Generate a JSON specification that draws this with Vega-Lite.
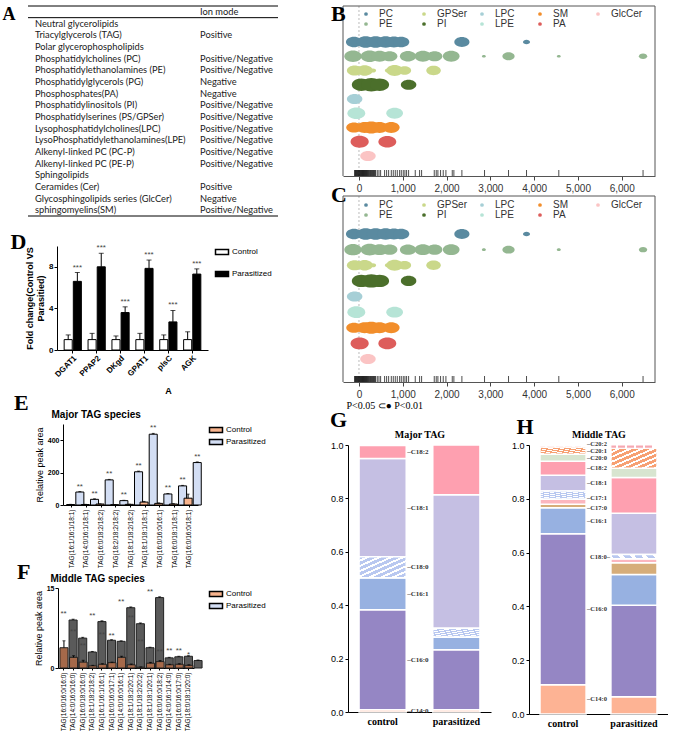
{
"$schema":"https://vega.github.io/schema/vega-lite/v6.json",
"padding":{"left":2,"top":2,"right":0,"bottom":0},
"background":"white",
"config":{
 "view":{"stroke":null},
 "axis":{"grid":false,"labelFont":"Liberation Sans","titleFont":"Liberation Sans","domainColor":"black","tickColor":"black","labelColor":"black","titleColor":"black"},
 "title":{"font":"Liberation Serif","fontSize":22,"fontWeight":"bold","anchor":"start","frame":"bounds","color":"black"}
},
"resolve":{"scale":{"color":"independent","fill":"independent","size":"independent"},"legend":{"color":"independent","fill":"independent","size":"independent"}},
"datasets":{
 "tableA":[
  {"row":"r00","name":"","mode":"Ion mode"},
  {"row":"r01","name":"Neutral glycerolipids","mode":""},
  {"row":"r02","name":"Triacylglycerols (TAG)","mode":"Positive"},
  {"row":"r03","name":"Polar glycerophospholipids","mode":""},
  {"row":"r04","name":"Phosphatidylcholines (PC)","mode":"Positive/Negative"},
  {"row":"r05","name":"Phosphatidylethanolamines (PE)","mode":"Positive/Negative"},
  {"row":"r06","name":"Phosphatidylglycerols (PG)","mode":"Negative"},
  {"row":"r07","name":"Phosphosphates(PA)","mode":"Negative"},
  {"row":"r08","name":"Phosphatidylinositols (PI)","mode":"Positive/Negative"},
  {"row":"r09","name":"Phosphatidylserines (PS/GPSer)","mode":"Positive/Negative"},
  {"row":"r10","name":"Lysophosphatidylcholines(LPC)","mode":"Positive/Negative"},
  {"row":"r11","name":"LysoPhosphatidylethanolamines(LPE)","mode":"Positive/Negative"},
  {"row":"r12","name":"Alkenyl-linked PC (PC-P)","mode":"Positive/Negative"},
  {"row":"r13","name":"Alkenyl-linked PC (PE-P)","mode":"Positive/Negative"},
  {"row":"r14","name":"Sphingolipids","mode":""},
  {"row":"r15","name":"Ceramides (Cer)","mode":"Positive"},
  {"row":"r16","name":"Glycosphingolipids series (GlcCer)","mode":"Negative"},
  {"row":"r17","name":"sphingomyelins(SM)","mode":"Positive/Negative"}
 ],
 "genes":[
  {"gene":"DGAT1","group":"Control","value":1.0,"err":0.45,"sig":""},
  {"gene":"DGAT1","group":"Parasitized","value":6.6,"err":0.85,"sig":"***"},
  {"gene":"PPAP2","group":"Control","value":1.0,"err":0.6,"sig":""},
  {"gene":"PPAP2","group":"Parasitized","value":8.0,"err":1.3,"sig":"***"},
  {"gene":"DKgd","group":"Control","value":1.0,"err":0.35,"sig":""},
  {"gene":"DKgd","group":"Parasitized","value":3.6,"err":0.55,"sig":"***"},
  {"gene":"GPAT1","group":"Control","value":1.0,"err":0.6,"sig":""},
  {"gene":"GPAT1","group":"Parasitized","value":7.85,"err":0.8,"sig":"***"},
  {"gene":"plsC","group":"Control","value":1.0,"err":0.45,"sig":""},
  {"gene":"plsC","group":"Parasitized","value":2.7,"err":1.1,"sig":"***"},
  {"gene":"AGK","group":"Control","value":1.0,"err":0.75,"sig":""},
  {"gene":"AGK","group":"Parasitized","value":7.3,"err":0.5,"sig":"***"}
 ],
 "tagE":[
  {"sp":"TAG(16:1/16:1/18:1)","group":"Control","value":3,"err":1,"sig":""},
  {"sp":"TAG(16:1/16:1/18:1)","group":"Parasitized","value":80,"err":3,"sig":"**"},
  {"sp":"TAG(14:0/16:1/18:1)","group":"Control","value":3,"err":1,"sig":""},
  {"sp":"TAG(14:0/16:1/18:1)","group":"Parasitized","value":35,"err":3,"sig":"**"},
  {"sp":"TAG(16:0/18:2/18:2)","group":"Control","value":6,"err":1,"sig":""},
  {"sp":"TAG(16:0/18:2/18:2)","group":"Parasitized","value":155,"err":3,"sig":"**"},
  {"sp":"TAG(18:2/18:2/18:2)","group":"Control","value":2,"err":1,"sig":""},
  {"sp":"TAG(18:2/18:2/18:2)","group":"Parasitized","value":27,"err":2,"sig":"**"},
  {"sp":"TAG(18:1/18:2/18:2)","group":"Control","value":4,"err":1,"sig":""},
  {"sp":"TAG(18:1/18:2/18:2)","group":"Parasitized","value":205,"err":4,"sig":"**"},
  {"sp":"TAG(18:1/18:1/18:1)","group":"Control","value":18,"err":4,"sig":""},
  {"sp":"TAG(18:1/18:1/18:1)","group":"Parasitized","value":437,"err":5,"sig":"**"},
  {"sp":"TAG(16:0/16:0/16:1)","group":"Control","value":10,"err":3,"sig":""},
  {"sp":"TAG(16:0/16:0/16:1)","group":"Parasitized","value":68,"err":3,"sig":"**"},
  {"sp":"TAG(16:0/18:1/18:1)","group":"Control","value":6,"err":2,"sig":""},
  {"sp":"TAG(16:0/18:1/18:1)","group":"Parasitized","value":118,"err":3,"sig":"**"},
  {"sp":"TAG(16:0/16:0/18:1)","group":"Control","value":42,"err":25,"sig":""},
  {"sp":"TAG(16:0/16:0/18:1)","group":"Parasitized","value":262,"err":4,"sig":"**"}
 ],
 "tagF":[
  {"sp":"TAG(16:0/16:0/16:0)","group":"Control","value":3.8,"err":1.3},
  {"sp":"TAG(16:0/16:0/16:0)","group":"Parasitized","value":9.0,"err":0.15,"sig":"**"},
  {"sp":"TAG(14:0/16:0/16:0)","group":"Control","value":2.0,"err":0.3},
  {"sp":"TAG(14:0/16:0/16:0)","group":"Parasitized","value":5.6,"err":0.15,"sig":"**"},
  {"sp":"TAG(16:0/18:0/16:0)","group":"Control","value":1.1,"err":0.35},
  {"sp":"TAG(16:0/18:0/16:0)","group":"Parasitized","value":3.0,"err":0.1,"sig":"**"},
  {"sp":"TAG(18:1/18:2/18:2)","group":"Control","value":0.4,"err":0.1},
  {"sp":"TAG(18:1/18:2/18:2)","group":"Parasitized","value":8.7,"err":0.15,"sig":"**"},
  {"sp":"TAG(16:1/16:1/16:1)","group":"Control","value":0.7,"err":0.1},
  {"sp":"TAG(16:1/16:1/16:1)","group":"Parasitized","value":5.2,"err":0.1,"sig":"**"},
  {"sp":"TAG(16:0/16:0/17:1)","group":"Control","value":1.0,"err":0.1},
  {"sp":"TAG(16:0/16:0/17:1)","group":"Parasitized","value":5.0,"err":0.1,"sig":"**"},
  {"sp":"TAG(14:0/16:0/16:1)","group":"Control","value":2.0,"err":0.2},
  {"sp":"TAG(14:0/16:0/16:1)","group":"Parasitized","value":11.3,"err":0.15,"sig":"**"},
  {"sp":"TAG(18:1/18:2/20:1)","group":"Control","value":0.6,"err":0.15},
  {"sp":"TAG(18:1/18:2/20:1)","group":"Parasitized","value":8.3,"err":0.15,"sig":"**"},
  {"sp":"TAG(18:1/18:2/20:2)","group":"Control","value":0.15,"err":0.05},
  {"sp":"TAG(18:1/18:2/20:2)","group":"Parasitized","value":3.8,"err":0.1,"sig":"**"},
  {"sp":"TAG(18:1/18:1/20:1)","group":"Control","value":0.9,"err":0.15},
  {"sp":"TAG(18:1/18:1/20:1)","group":"Parasitized","value":13.2,"err":0.15,"sig":"**"},
  {"sp":"TAG(16:0/16:0/18:2)","group":"Control","value":1.2,"err":0.2},
  {"sp":"TAG(16:0/16:0/18:2)","group":"Parasitized","value":1.9,"err":0.1,"sig":"**"},
  {"sp":"TAG(14:0/16:1/14:0)","group":"Control","value":0.6,"err":0.1},
  {"sp":"TAG(14:0/16:1/14:0)","group":"Parasitized","value":2.1,"err":0.1,"sig":"**"},
  {"sp":"TAG(16:0/16:0/17:0)","group":"Control","value":0.7,"err":0.1},
  {"sp":"TAG(16:0/16:0/17:0)","group":"Parasitized","value":2.2,"err":0.1,"sig":"**"},
  {"sp":"TAG(18:0/18:1/20:0)","group":"Control","value":0.5,"err":0.1},
  {"sp":"TAG(18:0/18:1/20:0)","group":"Parasitized","value":1.4,"err":0.1,"sig":"*"}
 ],
 "lipids":[
  {"cls":"PC","x":-114,"n":260},{"cls":"PC","x":152,"n":320},{"cls":"PC","x":380,"n":320},{"cls":"PC","x":608,"n":300},{"cls":"PC","x":798,"n":280},{"cls":"PC","x":965,"n":260},{"cls":"PC","x":2350,"n":230},{"cls":"PC","x":3826,"n":50},
  {"cls":"PE","x":-137,"n":300},{"cls":"PE","x":243,"n":320},{"cls":"PE","x":471,"n":280},{"cls":"PE","x":700,"n":240},{"cls":"PE","x":1118,"n":260},{"cls":"PE","x":1460,"n":280},{"cls":"PE","x":1727,"n":240},{"cls":"PE","x":2106,"n":280},{"cls":"PE","x":2852,"n":16},{"cls":"PE","x":3415,"n":150},{"cls":"PE","x":4563,"n":16},{"cls":"PE","x":6487,"n":70},
  {"cls":"GPSer","x":-99,"n":240},{"cls":"GPSer","x":129,"n":260},{"cls":"GPSer","x":319,"n":40},{"cls":"GPSer","x":662,"n":40},{"cls":"GPSer","x":814,"n":280},{"cls":"GPSer","x":1042,"n":170},{"cls":"GPSer","x":1703,"n":210},
  {"cls":"PI","x":53,"n":360},{"cls":"PI","x":281,"n":420},{"cls":"PI","x":471,"n":360},{"cls":"PI","x":1133,"n":240},
  {"cls":"LPC","x":-99,"n":240},
  {"cls":"LPE","x":-61,"n":320},{"cls":"LPE","x":814,"n":280},
  {"cls":"SM","x":-114,"n":240},{"cls":"SM","x":129,"n":280},{"cls":"SM","x":281,"n":350},{"cls":"SM","x":471,"n":280},{"cls":"SM","x":737,"n":280},
  {"cls":"PA","x":15,"n":330},{"cls":"PA","x":647,"n":320},
  {"cls":"GlcCer","x":205,"n":240}
 ],
 "rug":[
  {"x":-100},{"x":-88},{"x":-76},{"x":-64},{"x":-52},{"x":-40},{"x":-28},{"x":-16},{"x":-4},{"x":8},{"x":20},{"x":32},{"x":44},{"x":56},{"x":68},{"x":80},{"x":92},{"x":104},{"x":116},{"x":128},{"x":140},{"x":152},{"x":164},{"x":176},{"x":188},{"x":200},{"x":215},{"x":230},{"x":245},{"x":260},{"x":275},{"x":290},{"x":305},{"x":320},{"x":335},{"x":350},{"x":365},
  {"x":380},{"x":418},{"x":456},{"x":494},{"x":585},{"x":631},{"x":677},{"x":738},{"x":783},{"x":829},{"x":875},{"x":928},{"x":966},{"x":1011},{"x":1049},{"x":1087},{"x":1133},{"x":1285},{"x":1384},{"x":1430},{"x":1719},{"x":1764},{"x":1802},{"x":1863},{"x":1924},{"x":1985},{"x":2130},{"x":2167},{"x":2350},{"x":2867},{"x":3415},{"x":3826},{"x":4563},{"x":6487}
 ],
 "faG":[
  {"group":"control","fa":"C14:0","value":0.008},{"group":"control","fa":"C16:0","value":0.375},{"group":"control","fa":"C16:1","value":0.12},{"group":"control","fa":"C18:0","value":0.078},{"group":"control","fa":"C18:1","value":0.368},{"group":"control","fa":"C18:2","value":0.049},
  {"group":"parasitized","fa":"C14:0","value":0.008},{"group":"parasitized","fa":"C16:0","value":0.225},{"group":"parasitized","fa":"C16:1","value":0.048},{"group":"parasitized","fa":"C18:0","value":0.033},{"group":"parasitized","fa":"C18:1","value":0.5},{"group":"parasitized","fa":"C18:2","value":0.186}
 ],
 "faH":[
  {"group":"control","fa":"C14:0","value":0.109},{"group":"control","fa":"C16:0","value":0.561},{"group":"control","fa":"C16:1","value":0.097},{"group":"control","fa":"C17:0","value":0.013},{"group":"control","fa":"C17:1","value":0.019},{"group":"control","fa":"C18:0","value":0.03},{"group":"control","fa":"C18:1","value":0.059},{"group":"control","fa":"C18:2","value":0.052},{"group":"control","fa":"C20:0","value":0.026},{"group":"control","fa":"C20:1","value":0.027},{"group":"control","fa":"C20:2","value":0.003},
  {"group":"parasitized","fa":"C14:0","value":0.064},{"group":"parasitized","fa":"C16:0","value":0.34},{"group":"parasitized","fa":"C16:1","value":0.115},{"group":"parasitized","fa":"C17:0","value":0.043},{"group":"parasitized","fa":"C17:1","value":0.015},{"group":"parasitized","fa":"C18:0","value":0.016},{"group":"parasitized","fa":"C18:1","value":0.153},{"group":"parasitized","fa":"C18:2","value":0.133},{"group":"parasitized","fa":"C20:0","value":0.035},{"group":"parasitized","fa":"C20:1","value":0.074},{"group":"parasitized","fa":"C20:2","value":0.012}
 ]
},
"hconcat":[
 {"concat":[
  {
   "width":250,"height":210,
   "title":{"text":"A","fontSize":18,"offset":-18,"dx":-25},
   "data":{"name":"tableA"},
   "layer":[
    {"mark":{"type":"text","align":"left","baseline":"middle","font":"Lato","fontSize":9.3,"color":"#1a1a1a"},
     "encoding":{
      "x":{"datum":"Lipid","type":"nominal","bandPosition":0,"scale":{"type":"band","domain":["Lipid","Mode"],"paddingInner":0.57,"paddingOuter":0.042},"axis":null},
      "y":{"field":"row","type":"nominal","scale":{"type":"band","paddingInner":0,"paddingOuter":0},"axis":null},
      "text":{"field":"name"}}},
    {"mark":{"type":"text","align":"left","baseline":"middle","font":"Lato","fontSize":9.3,"color":"#1a1a1a"},
     "encoding":{
      "x":{"datum":"Mode","type":"nominal","bandPosition":0},
      "y":{"field":"row","type":"nominal"},
      "text":{"field":"mode"}}},
    {"transform":[{"filter":"datum.row == 'r00'"}],"mark":{"type":"rule","color":"black","strokeWidth":1},"encoding":{"y":{"field":"row","type":"nominal","bandPosition":0}}},
    {"transform":[{"filter":"datum.row == 'r00'"}],"mark":{"type":"rule","color":"black","strokeWidth":1},"encoding":{"y":{"field":"row","type":"nominal","bandPosition":1}}},
    {"transform":[{"filter":"datum.row == 'r17'"}],"mark":{"type":"rule","color":"black","strokeWidth":1},"encoding":{"y":{"field":"row","type":"nominal","bandPosition":1}}}
   ]
  },
  {"concat":[
   {
    "width":180,"height":104,
    "title":{"text":"D","offset":-10,"dx":-15},
    "data":{"name":"genes"},
    "transform":[{"calculate":"datum.value + datum.err","as":"hi"}],
    "encoding":{
     "x":{"field":"gene","type":"nominal","sort":null,"scale":{"range":[29,180],"paddingInner":0.28,"paddingOuter":0.3},"axis":{"title":"A","titleX":140,"titleFontSize":9,"titleFontWeight":"bold","titlePadding":8,"labelAngle":-45,"labelFontSize":8,"labelFontWeight":"bold","tickSize":3,"labelPadding":1}},
     "xOffset":{"field":"group","type":"nominal","sort":["Control","Parasitized"],"scale":{"paddingInner":0.12}}
    },
    "layer":[
     {"mark":{"type":"bar","stroke":"black","strokeWidth":1},
      "encoding":{
       "y":{"field":"value","type":"quantitative","scale":{"domain":[0,10],"nice":false},"axis":{"offset":-29,"values":[0,2,4,6,8,10],"title":["Fold change(Control VS","Parasitied)"],"titleFontSize":9,"titleFontWeight":"bold","titlePadding":3,"labelFontSize":8,"labelFontWeight":"bold","tickSize":3,"labelPadding":1}},
       "fill":{"field":"group","type":"nominal","scale":{"domain":["Control","Parasitized"],"range":["white","black"]},"legend":{"title":null,"symbolType":"M-1.3,-0.5H1.3V0.5H-1.3Z","symbolSize":100,"symbolStrokeColor":"black","symbolStrokeWidth":1.5,"labelFontSize":8,"labelFont":"Liberation Sans","rowPadding":10,"offset":8}}}},
     {"mark":{"type":"rule","color":"black","strokeWidth":1},"encoding":{"y":{"field":"value","type":"quantitative"},"y2":{"field":"hi"}}},
     {"mark":{"type":"tick","color":"black","orient":"horizontal","size":5,"thickness":1},"encoding":{"y":{"field":"hi","type":"quantitative"}}},
     {"mark":{"type":"text","baseline":"bottom","dy":-1,"fontSize":8,"font":"Liberation Sans","color":"#444"},"encoding":{"y":{"field":"hi","type":"quantitative"},"text":{"field":"sig"}}}
    ]
   },
   {"concat":[
    {
     "width":170,"height":81,
     "title":{"text":"E","offset":-6,"dx":-14},
     "data":{"name":"tagE"},
     "transform":[{"calculate":"datum.value + datum.err","as":"hi"}],
     "resolve":{"axis":{"x":"independent"}},
     "layer":[
      {"mark":{"type":"bar","stroke":"black","strokeWidth":1},
       "encoding":{
        "x":{"field":"sp","type":"nominal","sort":null,"scale":{"range":[35,170],"paddingInner":0.3,"paddingOuter":0.25},"axis":{"title":null,"labelAngle":-90,"labelFontSize":6.5,"tickSize":2,"labelPadding":2}},
        "xOffset":{"field":"group","type":"nominal","scale":{"paddingInner":0.1}},
        "y":{"field":"value","type":"quantitative","scale":{"domain":[0,500],"nice":false},"axis":{"offset":-35,"values":[0,100,200,300,400,500],"title":"Relative peak area","titleFontSize":9,"titleFontWeight":"normal","titlePadding":3,"labelFontSize":7,"labelFontWeight":"bold","tickSize":3,"labelPadding":1}},
        "fill":{"field":"group","type":"nominal","scale":{"domain":["Control","Parasitized"],"range":["#f7b38d","#d3def4"]},"legend":{"title":null,"symbolType":"M-1.3,-0.5H1.3V0.5H-1.3Z","symbolSize":100,"symbolStrokeColor":"black","symbolStrokeWidth":1.5,"labelFontSize":8,"labelFont":"Liberation Sans","rowPadding":-2,"offset":12}}}},
      {"mark":{"type":"rule","color":"black","strokeWidth":1},"encoding":{"x":{"field":"sp","type":"nominal","sort":null,"axis":null},"xOffset":{"field":"group","type":"nominal"},"y":{"field":"value","type":"quantitative"},"y2":{"field":"hi"}}},
      {"mark":{"type":"tick","color":"black","orient":"horizontal","size":3,"thickness":1},"encoding":{"x":{"field":"sp","type":"nominal","sort":null,"axis":null},"xOffset":{"field":"group","type":"nominal"},"y":{"field":"hi","type":"quantitative"}}},
      {"transform":[{"filter":"datum.group == 'Parasitized'"}],"mark":{"type":"text","baseline":"bottom","dy":-1,"fontSize":8,"font":"Liberation Sans","color":"#444"},"encoding":{"x":{"field":"sp","type":"nominal","sort":null,"axis":null},"xOffset":{"field":"group","type":"nominal"},"y":{"field":"hi","type":"quantitative"},"text":{"field":"sig"}}},
      {"mark":{"type":"tick","opacity":0},"encoding":{"x":{"field":"sp","type":"nominal","sort":null,"axis":{"orient":"top","title":"Major TAG species","labels":false,"ticks":false,"domain":false,"titleFontSize":10,"titleFontWeight":"bold","titleAnchor":"start","titleAlign":"left","titleX":23,"titlePadding":5}}}}
     ]
    },
    {
     "width":166,"height":80,
     "title":{"text":"F","offset":-11,"dx":-11},
     "data":{"name":"tagF"},
     "transform":[{"calculate":"datum.value + datum.err","as":"hi"}],
     "resolve":{"axis":{"x":"independent"},"scale":{"color":"independent"}},
     "layer":[
      {"mark":{"type":"bar","stroke":"#222","strokeWidth":1},
       "encoding":{
        "x":{"field":"sp","type":"nominal","sort":null,"scale":{"range":[30,166],"paddingInner":0.25,"paddingOuter":0.2},"axis":{"title":null,"labelAngle":-90,"labelFontSize":6.5,"tickSize":2,"labelPadding":2}},
        "xOffset":{"field":"group","type":"nominal","scale":{"paddingInner":0.1}},
        "y":{"field":"value","type":"quantitative","scale":{"domain":[0,15],"nice":false},"axis":{"offset":-30,"values":[0,5,10,15],"title":"Relative peak area","titleFontSize":9,"titleFontWeight":"normal","titlePadding":3,"labelFontSize":7,"labelFontWeight":"bold","tickSize":3,"labelPadding":1}},
        "fill":{"field":"group","type":"nominal","scale":{"domain":["Control","Parasitized"],"range":["#a5694a","#5a5a5a"]},"legend":null}}},
      {"mark":{"type":"rule","color":"black","strokeWidth":1},"encoding":{"x":{"field":"sp","type":"nominal","sort":null,"axis":null},"xOffset":{"field":"group","type":"nominal"},"y":{"field":"value","type":"quantitative"},"y2":{"field":"hi"}}},
      {"mark":{"type":"tick","color":"black","orient":"horizontal","size":3,"thickness":1},"encoding":{"x":{"field":"sp","type":"nominal","sort":null,"axis":null},"xOffset":{"field":"group","type":"nominal"},"y":{"field":"hi","type":"quantitative"}}},
      {"transform":[{"filter":"datum.group == 'Parasitized'"}],"mark":{"type":"text","baseline":"bottom","dy":-1,"fontSize":8,"font":"Liberation Sans","color":"#444"},"encoding":{"x":{"field":"sp","type":"nominal","sort":null,"axis":null},"y":{"field":"hi","type":"quantitative"},"text":{"field":"sig"}}},
      {"mark":{"type":"tick","opacity":0},"encoding":{"x":{"field":"sp","type":"nominal","sort":null,"axis":{"orient":"top","title":"Middle TAG species","labels":false,"ticks":false,"domain":false,"titleFontSize":10,"titleFontWeight":"bold","titleAnchor":"start","titleAlign":"left","titleX":22,"titlePadding":5}}}},
      {"transform":[{"filter":"false"}],"mark":{"type":"square","filled":true},"encoding":{"color":{"field":"group","type":"nominal","scale":{"domain":["Control","Parasitized"],"range":["#f7b38d","#d3def4"]},"legend":{"title":null,"symbolType":"M-1.3,-0.5H1.3V0.5H-1.3Z","symbolSize":100,"symbolStrokeColor":"black","symbolStrokeWidth":1.5,"symbolOpacity":1,"labelFontSize":8,"labelFont":"Liberation Sans","rowPadding":-2,"offset":16}}}}
     ]
    }
   ],"columns":1,"align":"none","spacing":-7,
   "resolve":{"scale":{"color":"independent","fill":"independent","size":"independent"},"legend":{"color":"independent","fill":"independent","size":"independent"}}}
  ],"columns":1,"align":"none","spacing":-4,
  "resolve":{"scale":{"color":"independent","fill":"independent","size":"independent"},"legend":{"color":"independent","fill":"independent","size":"independent"}}}
 ],"columns":1,"align":"none","spacing":14,
 "resolve":{"scale":{"color":"independent","fill":"independent","size":"independent"},"legend":{"color":"independent","fill":"independent","size":"independent"}}},
 {"concat":[
  {"concat":[
   {
    "width":336,"height":170,
    "title":{"text":"B","offset":-20,"dx":12},
    "resolve":{"scale":{"y":"independent"}},
    "layer":[
     {"data":{"values":[{}]},"mark":{"type":"rule","color":"#bbbbbb","strokeDash":[2,2],"strokeWidth":1},"encoding":{"x":{"datum":0,"type":"quantitative","scale":{"domain":[-365,6760],"range":[24,336],"nice":false,"zero":false}}}},
     {"data":{"values":[{}]},"mark":{"type":"rule","color":"#555","strokeWidth":1},"encoding":{"x":{"datum":-365,"type":"quantitative"}}},
     {"data":{"values":[{}]},"mark":{"type":"rule","color":"#555","strokeWidth":1},"encoding":{"x":{"datum":6760,"type":"quantitative"}}},
     {"data":{"values":[{}]},"mark":{"type":"rule","color":"#555","strokeWidth":1},"encoding":{"x":{"datum":-365,"type":"quantitative"},"x2":{"datum":6760},"y":{"datum":"top","type":"nominal","scale":{"type":"point","domain":["top","bottom"],"range":[0,170],"padding":0},"axis":null}}},
     {"data":{"name":"lipids"},"mark":{"type":"point","filled":true,"opacity":1,"shape":"M-1,0A1,0.65,0,1,1,1,0A1,0.65,0,1,1,-1,0Z"},
      "encoding":{
       "x":{"field":"x","type":"quantitative","axis":{"title":null,"values":[0,1000,2000,3000,4000,5000,6000],"domain":true,"domainColor":"#555","labelFontSize":10,"labelColor":"#333","tickColor":"#444","tickSize":4,"labelPadding":3}},
       "y":{"field":"cls","type":"nominal","scale":{"type":"point","domain":["PC","PE","GPSer","PI","LPC","LPE","SM","PA","GlcCer"],"range":[36,150],"padding":0},"axis":null},
       "color":{"field":"cls","type":"nominal","scale":{"domain":["PC","GPSer","LPC","SM","GlcCer","PE","PI","LPE","PA"],"range":["#5a8aa0","#cad88a","#a6cfd6","#f28e2b","#fbc4c4","#94b791","#4b6f2b","#b6e4d6","#dd5d5b"]},"legend":{"title":null,"orient":"none","legendX":42,"legendY":3,"direction":"horizontal","columns":5,"symbolType":"circle","symbolSize":14,"labelFontSize":10,"labelColor":"#333","labelOffset":8,"gridAlign":"all","columnPadding":8,"rowPadding":-2}},
       "size":{"field":"n","type":"quantitative","scale":{"domain":[0,400],"range":[0,400]},"legend":null}}},
     {"data":{"name":"rug"},"mark":{"type":"tick","color":"black","thickness":1,"size":6,"orient":"vertical"},"encoding":{"x":{"field":"x","type":"quantitative"},"y":{"datum":"rug","type":"nominal","scale":{"type":"point","domain":["rug"],"range":[167,167]},"axis":null}}}
    ]
   },
   {
    "width":336,"height":186,
    "title":{"text":"C","offset":-11,"dx":12},
    "resolve":{"scale":{"y":"independent"}},
    "layer":[
     {"data":{"values":[{}]},"mark":{"type":"rule","color":"#bbbbbb","strokeDash":[2,2],"strokeWidth":1},"encoding":{"x":{"datum":0,"type":"quantitative","scale":{"domain":[-365,6760],"range":[24,336],"nice":false,"zero":false}}}},
     {"data":{"values":[{}]},"mark":{"type":"rule","color":"#555","strokeWidth":1},"encoding":{"x":{"datum":-365,"type":"quantitative"}}},
     {"data":{"values":[{}]},"mark":{"type":"rule","color":"#555","strokeWidth":1},"encoding":{"x":{"datum":6760,"type":"quantitative"}}},
     {"data":{"values":[{}]},"mark":{"type":"rule","color":"#555","strokeWidth":1},"encoding":{"x":{"datum":-365,"type":"quantitative"},"x2":{"datum":6760},"y":{"datum":"top","type":"nominal","scale":{"type":"point","domain":["top","bottom"],"range":[0,186],"padding":0},"axis":null}}},
     {"data":{"name":"lipids"},"mark":{"type":"point","filled":true,"opacity":1,"shape":"M-1,0A1,0.65,0,1,1,1,0A1,0.65,0,1,1,-1,0Z"},
      "encoding":{
       "x":{"field":"x","type":"quantitative","axis":{"title":"P<0.05 ⊂● P<0.01","titleFont":"Liberation Serif","titleFontSize":10,"titleFontWeight":"normal","titleAnchor":"start","titleAlign":"left","titleX":27,"titlePadding":1,"values":[0,1000,2000,3000,4000,5000,6000],"domain":true,"domainColor":"#555","labelFontSize":10,"labelColor":"#333","tickColor":"#444","tickSize":4,"labelPadding":3}},
       "y":{"field":"cls","type":"nominal","scale":{"type":"point","domain":["PC","PE","GPSer","PI","LPC","LPE","SM","PA","GlcCer"],"range":[38,163],"padding":0},"axis":null},
       "color":{"field":"cls","type":"nominal","scale":{"domain":["PC","GPSer","LPC","SM","GlcCer","PE","PI","LPE","PA"],"range":["#5a8aa0","#cad88a","#a6cfd6","#f28e2b","#fbc4c4","#94b791","#4b6f2b","#b6e4d6","#dd5d5b"]},"legend":{"title":null,"orient":"none","legendX":42,"legendY":4,"direction":"horizontal","columns":5,"symbolType":"circle","symbolSize":14,"labelFontSize":10,"labelColor":"#333","labelOffset":8,"gridAlign":"all","columnPadding":8,"rowPadding":-2}},
       "size":{"field":"n","type":"quantitative","scale":{"domain":[0,400],"range":[0,400]},"legend":null}}},
     {"data":{"name":"rug"},"mark":{"type":"tick","color":"black","thickness":1,"size":6,"orient":"vertical"},"encoding":{"x":{"field":"x","type":"quantitative"},"y":{"datum":"rug","type":"nominal","scale":{"type":"point","domain":["rug"],"range":[183,183]},"axis":null}}}
    ]
   }
  ],"columns":1,"align":"none","spacing":-10,
  "resolve":{"scale":{"color":"independent","fill":"independent","size":"independent"},"legend":{"color":"independent","fill":"independent","size":"independent"}}},
  {"hconcat":[
   {
    "width":172,"height":267,
    "title":{"text":"G","offset":-3,"dx":11},
    "data":{"name":"faG"},
    "transform":[{"stack":"value","groupby":["group"],"sort":[{"field":"fa","order":"ascending"}],"as":["y0","y1"]},{"calculate":"(datum.y0 + datum.y1) / 2","as":"mid"}],
    "resolve":{"axis":{"x":"independent"}},
    "layer":[
     {"mark":{"type":"bar","stroke":"white","strokeWidth":1.5},
      "encoding":{
       "x":{"field":"group","type":"nominal","sort":["control","parasitized"],"scale":{"range":[29,172],"paddingInner":0.36,"paddingOuter":0.15},"axis":{"title":null,"labelAngle":0,"labelFont":"Liberation Serif","labelFontWeight":"bold","labelFontSize":10,"ticks":false,"labelPadding":4}},
       "y":{"field":"y0","type":"quantitative","scale":{"domain":[0,1],"nice":false},"axis":{"offset":-29,"values":[0,0.2,0.4,0.6,0.8,1],"format":".1f","title":null,"labelFontSize":9,"tickSize":3,"labelPadding":2}},
       "y2":{"field":"y1"},
       "color":{"field":"fa","type":"nominal","scale":{"domain":["C14:0","C16:0","C16:1","C17:0","C17:1","C18:0","C18:1","C18:2","C20:0","C20:1","C20:2"],"range":["#fdb394","#9586c4","#97b1e1","#d6ad7a","#fbb6bf","#c2cff2","#c5bfe3","#fea0b0","#d8e5d0","#f9a77d","#f7b5bd"]},"legend":null}}},
     {"transform":[{"filter":"datum.fa == 'C18:0'"}],"mark":{"type":"bar","stroke":"white","strokeWidth":1.5,"fill":{"gradient":"linear","x1":0,"y1":0,"x2":1,"y2":1,"stops":[{"offset":0,"color":"#b9c8f0"},{"offset":0.075,"color":"#b9c8f0"},{"offset":0.075,"color":"white"},{"offset":0.125,"color":"white"},{"offset":0.125,"color":"#b9c8f0"},{"offset":0.2,"color":"#b9c8f0"},{"offset":0.2,"color":"white"},{"offset":0.25,"color":"white"},{"offset":0.25,"color":"#b9c8f0"},{"offset":0.325,"color":"#b9c8f0"},{"offset":0.325,"color":"white"},{"offset":0.375,"color":"white"},{"offset":0.375,"color":"#b9c8f0"},{"offset":0.45,"color":"#b9c8f0"},{"offset":0.45,"color":"white"},{"offset":0.5,"color":"white"},{"offset":0.5,"color":"#b9c8f0"},{"offset":0.575,"color":"#b9c8f0"},{"offset":0.575,"color":"white"},{"offset":0.625,"color":"white"},{"offset":0.625,"color":"#b9c8f0"},{"offset":0.7,"color":"#b9c8f0"},{"offset":0.7,"color":"white"},{"offset":0.75,"color":"white"},{"offset":0.75,"color":"#b9c8f0"},{"offset":0.825,"color":"#b9c8f0"},{"offset":0.825,"color":"white"},{"offset":0.875,"color":"white"},{"offset":0.875,"color":"#b9c8f0"},{"offset":0.95,"color":"#b9c8f0"},{"offset":0.95,"color":"white"},{"offset":1,"color":"white"}]}},
      "encoding":{"x":{"field":"group","type":"nominal","sort":["control","parasitized"],"axis":null},"y":{"field":"y0","type":"quantitative"},"y2":{"field":"y1"}}},
     {"transform":[{"filter":"datum.group == 'control'"},{"calculate":"'–' + datum.fa","as":"lab"}],"mark":{"type":"text","align":"left","baseline":"middle","dx":1,"font":"Liberation Serif","fontSize":7,"fontWeight":"bold","color":"#333"},
      "encoding":{"x":{"field":"group","type":"nominal","sort":["control","parasitized"],"bandPosition":1,"axis":null},"y":{"field":"mid","type":"quantitative"},"text":{"field":"lab"}}},
     {"mark":{"type":"tick","opacity":0},"encoding":{"x":{"field":"group","type":"nominal","sort":["control","parasitized"],"axis":{"orient":"top","title":"Major TAG","labels":false,"ticks":false,"domain":false,"titleFont":"Liberation Serif","titleFontSize":10,"titleFontWeight":"bold","titlePadding":6}}}}
    ]
   },
   {
    "width":139,"height":269,
    "title":{"text":"H","offset":-10,"dx":5},
    "data":{"name":"faH"},
    "transform":[{"stack":"value","groupby":["group"],"sort":[{"field":"fa","order":"ascending"}],"as":["y0","y1"]},{"calculate":"(datum.y0 + datum.y1) / 2","as":"mid"},{"calculate":"datum.fa == 'C20:2' ? datum.y1 + 0.008 : datum.fa == 'C17:1' ? datum.y1 + 0.004 : datum.fa == 'C17:0' ? datum.y0 : datum.mid","as":"ly"}],
    "resolve":{"axis":{"x":"independent"}},
    "layer":[
     {"mark":{"type":"bar","stroke":"white","strokeWidth":1.5},
      "encoding":{
       "x":{"field":"group","type":"nominal","sort":["control","parasitized"],"scale":{"paddingInner":0.35,"paddingOuter":0.155},"axis":{"title":null,"labelAngle":0,"labelFont":"Liberation Serif","labelFontWeight":"bold","labelFontSize":10,"ticks":false,"labelPadding":4}},
       "y":{"field":"y0","type":"quantitative","scale":{"domain":[0,1],"nice":false},"axis":{"values":[0,0.2,0.4,0.6,0.8,1],"format":".1f","title":null,"labelFontSize":9,"tickSize":3,"labelPadding":2}},
       "y2":{"field":"y1"},
       "color":{"field":"fa","type":"nominal","scale":{"domain":["C14:0","C16:0","C16:1","C17:0","C17:1","C18:0","C18:1","C18:2","C20:0","C20:1","C20:2"],"range":["#fdb394","#9586c4","#97b1e1","#d6ad7a","#fbb6bf","#c2cff2","#c5bfe3","#fea0b0","#d8e5d0","#f9a77d","#f7b5bd"]},"legend":null}}},
     {"transform":[{"filter":"datum.fa == 'C18:0'"}],"mark":{"type":"bar","stroke":"white","strokeWidth":1.5,"fill":{"gradient":"linear","x1":0,"y1":0,"x2":1,"y2":1,"stops":[{"offset":0,"color":"#b9c8f0"},{"offset":0.075,"color":"#b9c8f0"},{"offset":0.075,"color":"white"},{"offset":0.125,"color":"white"},{"offset":0.125,"color":"#b9c8f0"},{"offset":0.2,"color":"#b9c8f0"},{"offset":0.2,"color":"white"},{"offset":0.25,"color":"white"},{"offset":0.25,"color":"#b9c8f0"},{"offset":0.325,"color":"#b9c8f0"},{"offset":0.325,"color":"white"},{"offset":0.375,"color":"white"},{"offset":0.375,"color":"#b9c8f0"},{"offset":0.45,"color":"#b9c8f0"},{"offset":0.45,"color":"white"},{"offset":0.5,"color":"white"},{"offset":0.5,"color":"#b9c8f0"},{"offset":0.575,"color":"#b9c8f0"},{"offset":0.575,"color":"white"},{"offset":0.625,"color":"white"},{"offset":0.625,"color":"#b9c8f0"},{"offset":0.7,"color":"#b9c8f0"},{"offset":0.7,"color":"white"},{"offset":0.75,"color":"white"},{"offset":0.75,"color":"#b9c8f0"},{"offset":0.825,"color":"#b9c8f0"},{"offset":0.825,"color":"white"},{"offset":0.875,"color":"white"},{"offset":0.875,"color":"#b9c8f0"},{"offset":0.95,"color":"#b9c8f0"},{"offset":0.95,"color":"white"},{"offset":1,"color":"white"}]}},
      "encoding":{"x":{"field":"group","type":"nominal","sort":["control","parasitized"],"axis":null},"y":{"field":"y0","type":"quantitative"},"y2":{"field":"y1"}}},
     {"transform":[{"filter":"datum.fa == 'C20:1'"}],"mark":{"type":"bar","stroke":"white","strokeWidth":1.5,"fill":{"gradient":"linear","x1":0,"y1":0,"x2":1,"y2":1,"stops":[{"offset":0,"color":"#f7a072"},{"offset":0.075,"color":"#f7a072"},{"offset":0.075,"color":"white"},{"offset":0.125,"color":"white"},{"offset":0.125,"color":"#f7a072"},{"offset":0.2,"color":"#f7a072"},{"offset":0.2,"color":"white"},{"offset":0.25,"color":"white"},{"offset":0.25,"color":"#f7a072"},{"offset":0.325,"color":"#f7a072"},{"offset":0.325,"color":"white"},{"offset":0.375,"color":"white"},{"offset":0.375,"color":"#f7a072"},{"offset":0.45,"color":"#f7a072"},{"offset":0.45,"color":"white"},{"offset":0.5,"color":"white"},{"offset":0.5,"color":"#f7a072"},{"offset":0.575,"color":"#f7a072"},{"offset":0.575,"color":"white"},{"offset":0.625,"color":"white"},{"offset":0.625,"color":"#f7a072"},{"offset":0.7,"color":"#f7a072"},{"offset":0.7,"color":"white"},{"offset":0.75,"color":"white"},{"offset":0.75,"color":"#f7a072"},{"offset":0.825,"color":"#f7a072"},{"offset":0.825,"color":"white"},{"offset":0.875,"color":"white"},{"offset":0.875,"color":"#f7a072"},{"offset":0.95,"color":"#f7a072"},{"offset":0.95,"color":"white"},{"offset":1,"color":"white"}]}},
      "encoding":{"x":{"field":"group","type":"nominal","sort":["control","parasitized"],"axis":null},"y":{"field":"y0","type":"quantitative"},"y2":{"field":"y1"}}},
     {"transform":[{"filter":"datum.fa == 'C20:2'"}],"mark":{"type":"bar","stroke":"white","strokeWidth":1,"fill":{"gradient":"linear","x1":0,"y1":0,"x2":1,"y2":0,"stops":[{"offset":0,"color":"#f6a8b2"},{"offset":0.1,"color":"#f6a8b2"},{"offset":0.1,"color":"white"},{"offset":0.15,"color":"white"},{"offset":0.15,"color":"#f6a8b2"},{"offset":0.3,"color":"#f6a8b2"},{"offset":0.3,"color":"white"},{"offset":0.35,"color":"white"},{"offset":0.35,"color":"#f6a8b2"},{"offset":0.5,"color":"#f6a8b2"},{"offset":0.5,"color":"white"},{"offset":0.55,"color":"white"},{"offset":0.55,"color":"#f6a8b2"},{"offset":0.7,"color":"#f6a8b2"},{"offset":0.7,"color":"white"},{"offset":0.75,"color":"white"},{"offset":0.75,"color":"#f6a8b2"},{"offset":0.9,"color":"#f6a8b2"},{"offset":0.9,"color":"white"},{"offset":1,"color":"white"}]}},
      "encoding":{"x":{"field":"group","type":"nominal","sort":["control","parasitized"],"axis":null},"y":{"field":"y0","type":"quantitative"},"y2":{"field":"y1"}}},
     {"transform":[{"filter":"datum.group == 'control' && datum.fa != 'C18:0'"},{"calculate":"'–' + datum.fa","as":"lab"}],"mark":{"type":"text","align":"left","baseline":"middle","dx":1,"font":"Liberation Serif","fontSize":6.5,"fontWeight":"bold","color":"#333"},
      "encoding":{"x":{"field":"group","type":"nominal","sort":["control","parasitized"],"bandPosition":1,"axis":null},"y":{"field":"ly","type":"quantitative"},"text":{"field":"lab"}}},
     {"transform":[{"filter":"datum.group == 'parasitized' && datum.fa == 'C18:0'"},{"calculate":"datum.fa + '–'","as":"lab"}],"mark":{"type":"text","align":"right","baseline":"middle","dx":-1,"font":"Liberation Serif","fontSize":6.5,"fontWeight":"bold","color":"#333"},
      "encoding":{"x":{"field":"group","type":"nominal","sort":["control","parasitized"],"bandPosition":0,"axis":null},"y":{"field":"mid","type":"quantitative"},"text":{"field":"lab"}}},
     {"mark":{"type":"tick","opacity":0},"encoding":{"x":{"field":"group","type":"nominal","sort":["control","parasitized"],"axis":{"orient":"top","title":"Middle TAG","labels":false,"ticks":false,"domain":false,"titleFont":"Liberation Serif","titleFontSize":10,"titleFontWeight":"bold","titlePadding":6}}}}
    ]
   }
  ],"spacing":20,
  "resolve":{"scale":{"color":"independent","fill":"independent","size":"independent"},"legend":{"color":"independent","fill":"independent","size":"independent"}}}
 ],"columns":1,"align":"none","spacing":-1,
 "resolve":{"scale":{"color":"independent","fill":"independent","size":"independent"},"legend":{"color":"independent","fill":"independent","size":"independent"}}}
],
"spacing":40
}
